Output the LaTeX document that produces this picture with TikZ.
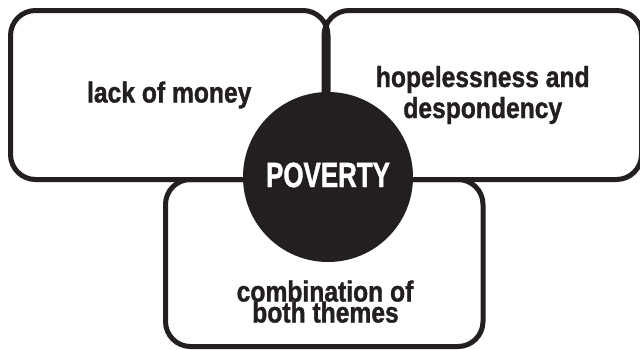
\documentclass[tikz,border=0pt]{standalone}
\usepackage{fontspec}
\newfontfamily\boxfont{Liberation Sans}[FakeStretch=0.85, FakeBold=1.2]
\newfontfamily\povfont{Liberation Sans}[FakeStretch=0.74, FakeBold=1.2]
\definecolor{ink}{RGB}{35,31,32}

\begin{document}
\begin{tikzpicture}[x=1pt, y=-1pt,
    theme/.style={draw=ink, line width=5pt, rounded corners=25pt, minimum width=317.5pt, inner sep=0, outer sep=0,
        align=center, text=ink, font=\boxfont\bfseries\fontsize{29}{31}\selectfont},
    words/.style={anchor=base, inner sep=0, text=ink, font=\boxfont\bfseries\fontsize{29}{31}\selectfont}
  ]
    \useasboundingbox (0,0) rectangle (640,349);
    \node (money) [theme, minimum height=169pt] at (169.25,95) {lack of money};
    \node (hope) [theme, minimum height=169pt] at (482.75,95) {hopelessness and\\despondency};
    \node (both) [theme, minimum height=167pt] at (324.25,263) {};
    \node (comb1) [words] at (325,301.5) {combination of};
    \node (comb2) [words] at (325.5,322.5) {both themes};
    \node (pov) [circle, fill=ink, minimum size=170pt, inner sep=0] at (328,177) {};
    \node (povtxt) [anchor=base, inner sep=0, text=white, font=\povfont\bfseries\fontsize{35}{35}\selectfont] at (328,187) {POVERTY};
  \end{tikzpicture}
\end{document}
